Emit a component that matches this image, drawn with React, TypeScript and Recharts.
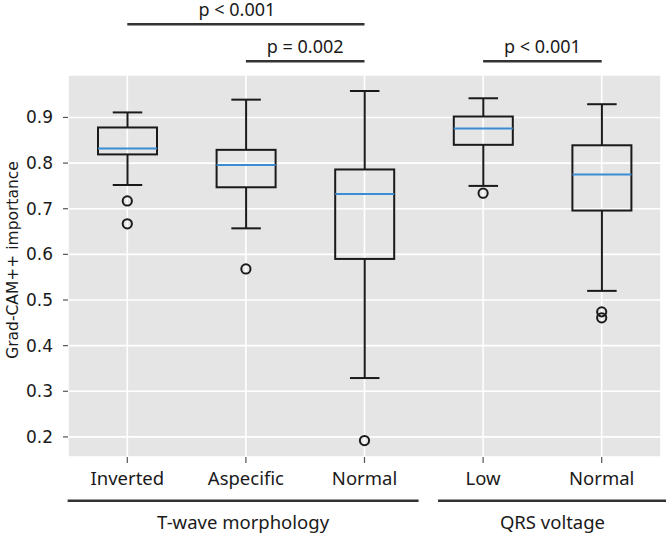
import {
  Bar,
  CartesianGrid,
  ComposedChart,
  ReferenceLine,
  Scatter,
  XAxis,
  YAxis,
} from "recharts";

const groups = ["Inverted", "Aspecific", "Normal", "Low", "Normal"];
const whiskerLow = [0.752, 0.657, 0.329, 0.75, 0.52];
const quart1 = [0.819, 0.747, 0.59, 0.84, 0.696];
const medians = [0.832, 0.796, 0.732, 0.876, 0.775];
const quart3 = [0.878, 0.829, 0.786, 0.902, 0.839];
const whiskerHigh = [0.911, 0.939, 0.958, 0.942, 0.929];
const outliers = [[0.717, 0.667], [0.568], [0.192], [0.734], [0.474, 0.461]];
const yTicks = [0.2, 0.3, 0.4, 0.5, 0.6, 0.7, 0.8, 0.9];

const rows = groups.map((g, i) => ({
  pos: i,
  name: g,
  lo: whiskerLow[i],
  q1: quart1[i],
  med: medians[i],
  q3: quart3[i],
  hi: whiskerHigh[i],
}));

const outlierPts = outliers.flatMap((vals, i) => vals.map((v) => ({ pos: i, v })));

const font = "'Noto Sans', sans-serif";
const axisFont = "'DejaVu Sans', sans-serif";
const ink = "#1a1a1a";

function BoxShape(props: any) {
  const { x, y, width, height, payload } = props;
  const top = Math.min(y, y + height);
  const h = Math.abs(height);
  const span = payload.hi - payload.lo;
  const py = (v: number) => top + ((payload.hi - v) / span) * h;
  const cx = x + width / 2;
  const cap = width / 4;
  return (
    <g>
      <line x1={cx} x2={cx} y1={py(payload.hi)} y2={py(payload.q3)} stroke={ink} strokeWidth={2} />
      <line x1={cx} x2={cx} y1={py(payload.q1)} y2={py(payload.lo)} stroke={ink} strokeWidth={2} />
      <line x1={cx - cap} x2={cx + cap} y1={py(payload.hi)} y2={py(payload.hi)} stroke={ink} strokeWidth={2} />
      <line x1={cx - cap} x2={cx + cap} y1={py(payload.lo)} y2={py(payload.lo)} stroke={ink} strokeWidth={2} />
      <rect
        x={x}
        y={py(payload.q3)}
        width={width}
        height={py(payload.q1) - py(payload.q3)}
        fill="none"
        stroke={ink}
        strokeWidth={2}
      />
      <line x1={x} x2={x + width} y1={py(payload.med)} y2={py(payload.med)} stroke="#3a8dd3" strokeWidth={2} />
    </g>
  );
}

function Flier(props: any) {
  const { cx, cy } = props;
  return <circle cx={cx} cy={cy} r={4.6} fill="none" stroke={ink} strokeWidth={2} />;
}

export default function App() {
  return (
    <div style={{ position: "absolute", left: 0, top: 0, width: 666, height: 534, background: "#fff" }}>
      <style>{"body{margin:0}"}</style>
      <ComposedChart
        width={666}
        height={534}
        data={rows}
        margin={{ top: 75, right: 5, left: 0, bottom: 0 }}
        style={{ fontFamily: font }}
      >
        <CartesianGrid fill="#e5e5e5" stroke="#ffffff" strokeWidth={1.6} />
        <XAxis
          type="number"
          dataKey="pos"
          domain={[-0.5, 4.5]}
          ticks={[0, 1, 2, 3, 4]}
          tickFormatter={(v) => groups[v]}
          axisLine={false}
          tickSize={6}
          tickMargin={9}
          tickLine={{ stroke: "#555", strokeWidth: 1.2 }}
          tick={{ fill: ink, fontSize: 18.5, fontFamily: font }}
          height={77}
          allowDataOverflow
        />
        <YAxis
          type="number"
          domain={[0.156, 0.993]}
          ticks={yTicks}
          tickFormatter={(v) => v.toFixed(1)}
          axisLine={false}
          tickSize={5}
          tickMargin={10}
          tickLine={{ stroke: "#555", strokeWidth: 1.2 }}
          tick={{ fill: ink, fontSize: 17, fontFamily: axisFont }}
          width={68}
          allowDataOverflow
          label={{
            content: (p: any) => {
              const vb = p.viewBox;
              const lx = vb.x + 12.5;
              const ly = vb.y + vb.height / 2 - 6;
              return (
                <text
                  x={lx}
                  y={ly}
                  transform={`rotate(-90 ${lx} ${ly})`}
                  textAnchor="middle"
                  dominantBaseline="central"
                  fontSize={15.5}
                  fill={ink}
                  fontFamily={axisFont}
                >
                  Grad-CAM++ importance
                </text>
              );
            },
          }}
        />
        <Bar
          dataKey={(d: any) => [d.lo, d.hi]}
          barSize={59}
          shape={<BoxShape />}
          isAnimationActive={false}
        />
        <Scatter data={outlierPts} dataKey="v" shape={<Flier />} isAnimationActive={false} />

        <ReferenceLine
          segment={[{ x: 0, y: 1.104 }, { x: 2, y: 1.104 }]}
          ifOverflow="visible"
          stroke="#333"
          strokeWidth={2.5}
          label={{ value: "p < 0.001", position: "top", offset: 8, dx: -9, fill: ink, fontSize: 18, fontFamily: font }}
        />
        <ReferenceLine
          segment={[{ x: 1, y: 1.023 }, { x: 2, y: 1.023 }]}
          ifOverflow="visible"
          stroke="#333"
          strokeWidth={2.5}
          label={{ value: "p = 0.002", position: "top", offset: 8.5, fill: ink, fontSize: 18, fontFamily: font }}
        />
        <ReferenceLine
          segment={[{ x: 3, y: 1.023 }, { x: 4, y: 1.023 }]}
          ifOverflow="visible"
          stroke="#333"
          strokeWidth={2.5}
          label={{ value: "p < 0.001", position: "top", offset: 8.5, fill: ink, fontSize: 18, fontFamily: font }}
        />
        <ReferenceLine
          segment={[{ x: -0.503, y: 0.06 }, { x: 2.456, y: 0.06 }]}
          ifOverflow="visible"
          stroke="#333"
          strokeWidth={2.5}
          label={{ value: "T-wave morphology", position: "bottom", offset: 15, fill: ink, fontSize: 18.5, fontFamily: font }}
        />
        <ReferenceLine
          segment={[{ x: 2.62, y: 0.06 }, { x: 4.55, y: 0.06 }]}
          ifOverflow="visible"
          stroke="#333"
          strokeWidth={2.5}
          label={{ value: "QRS voltage", position: "bottom", offset: 15, fill: ink, fontSize: 18.5, fontFamily: font }}
        />
      </ComposedChart>
    </div>
  );
}
